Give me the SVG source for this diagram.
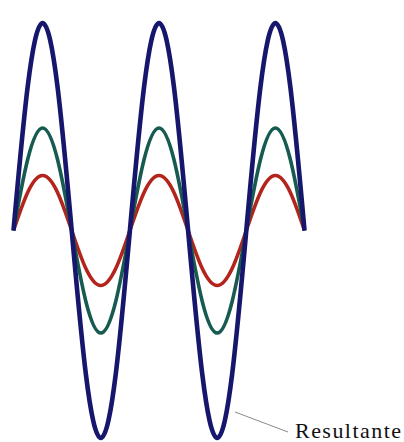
<svg xmlns="http://www.w3.org/2000/svg" width="404" height="442" viewBox="0 0 404 442">
<style>
.w{fill:none;stroke-linecap:butt;stroke-linejoin:round}
.red{stroke:#b3241d;stroke-width:3.6}
.teal{stroke:#175a50;stroke-width:3.6}
.blue{stroke:#16166c;stroke-width:4.6}
.lead{stroke:#8a8a8a;stroke-width:1;fill:none}
.lbl{font-family:"Liberation Serif","Times New Roman",serif;font-size:22px;fill:#111111}
</style>
<rect width="404" height="442" fill="#ffffff"/>
<g id="red-wave">
<path class="w red" d="M13.5 230.5 c9.49 -28.18 18.57 -55 29.1 -55 s19.61 26.82 29.1 55 s18.57 55 29.1 55 s19.61 -26.82 29.1 -55 s18.57 -55 29.1 -55 s19.61 26.82 29.1 55 s18.57 55 29.1 55 s19.61 -26.82 29.1 -55 s18.57 -55 29.1 -55 s19.61 26.82 29.1 55"/>
</g>
<g id="teal-wave">
<path class="w teal" d="M13.5 230.5 c9.49 -52.51 18.57 -102.5 29.1 -102.5 s19.61 49.99 29.1 102.5 s18.57 102.5 29.1 102.5 s19.61 -49.99 29.1 -102.5 s18.57 -102.5 29.1 -102.5 s19.61 49.99 29.1 102.5 s18.57 102.5 29.1 102.5 s19.61 -49.99 29.1 -102.5 s18.57 -102.5 29.1 -102.5 s19.61 49.99 29.1 102.5"/>
</g>
<g id="blue-wave">
<path class="w blue" d="M13.5 230.5 c9.49 -106.3 18.57 -207.5 29.1 -207.5 s19.61 101.2 29.1 207.5 s18.57 207.5 29.1 207.5 s19.61 -101.2 29.1 -207.5 s18.57 -207.5 29.1 -207.5 s19.61 101.2 29.1 207.5 s18.57 207.5 29.1 207.5 s19.61 -101.2 29.1 -207.5 s18.57 -207.5 29.1 -207.5 s19.61 101.2 29.1 207.5"/>
</g>
<g id="connectors">
<path class="lead" d="M235 412 L288 432"/>
</g>
<g id="label">
<text class="lbl" x="295" y="438" textLength="106" lengthAdjust="spacing">Resultante</text>
</g>
</svg>
